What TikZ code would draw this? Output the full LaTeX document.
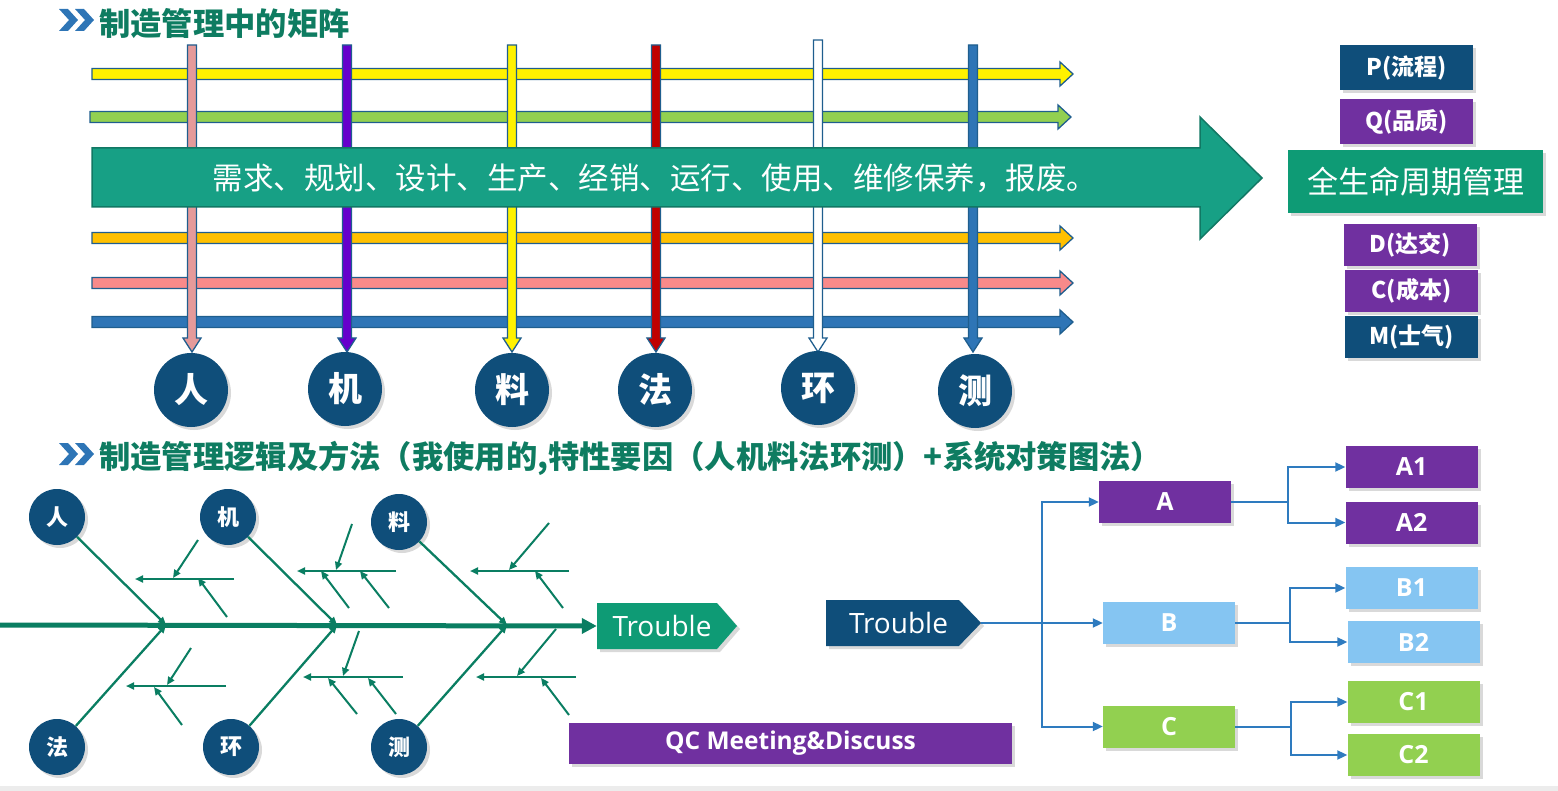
\documentclass[tikz,border=0pt]{standalone}
\usepackage{fontspec}
\setmainfont{Noto Sans CJK SC}
\newfontfamily\latinfont{Open Sans}
\usepackage{tikz}
\usetikzlibrary{positioning,arrows.meta,shadows,shapes.symbols}
\definecolor{ttlgreen}{HTML}{0E7C61}
\definecolor{bonegreen}{HTML}{0A7E62}
\definecolor{bigteal}{HTML}{17A085}
\definecolor{boxgreen}{HTML}{0E9B75}
\definecolor{navy}{HTML}{0F4E7A}
\definecolor{purp}{HTML}{7030A0}
\definecolor{lblue}{HTML}{85C5F2}
\definecolor{lgreen}{HTML}{92D050}
\definecolor{cblue}{HTML}{2E7BBF}
\definecolor{edgeblue}{HTML}{1F5E8E}
\definecolor{barpink}{HTML}{E59A9A}
\definecolor{barpurp}{HTML}{6600CC}
\definecolor{barred}{HTML}{C00000}
\definecolor{barblue}{HTML}{2E75B6}
\definecolor{orange}{HTML}{FFC000}
\definecolor{salmon}{HTML}{F88A8A}

\begin{document}
\begin{tikzpicture}[x=1pt, y=-1pt,
  shade/.style={drop shadow={shadow xshift=3pt, shadow yshift=-3pt, opacity=0.3}},
  ttl/.style={anchor=west, text=ttlgreen, inner sep=0pt, font=\fontsize{31.3}{33}\selectfont\bfseries},
  chev/.style={fill=barblue},
  barline/.style={draw=edgeblue, line width=1.3pt},
  ball/.style={circle, fill=navy, text=white, shade, inner sep=0pt, font=\fontsize{34}{36}\selectfont\bfseries},
  sball/.style={ball, minimum size=56pt, font=\fontsize{22}{24}\selectfont\bfseries},
  tag/.style={rectangle, text=white, shade, inner sep=0pt, minimum width=133pt, minimum height=42pt, font=\fontsize{23}{25}\selectfont\bfseries},
  leaf/.style={tag, minimum width=132pt, font=\latinfont\fontsize{25}{27}\selectfont\bfseries},
  bone/.style={draw=bonegreen, line width=2.3pt, -{Triangle[length=8pt,width=7pt]}},
  spine/.style={draw=bonegreen, line width=5pt, -{Triangle[length=15pt,width=15pt]}},
  tline/.style={draw=cblue, line width=2pt},
  tarr/.style={tline, -{Triangle[length=10pt,width=9pt]}}]
\useasboundingbox (0,0) rectangle (1558,791);
\fill[gray!15] (0,786) rectangle (1558,791);

\foreach \dy in {0,434}
  \foreach \dx in {0,16}
    \fill[chev] (59+\dx,9+\dy) -- (68+\dx,9+\dy) -- (78+\dx,20+\dy) -- (68+\dx,31+\dy) -- (59+\dx,31+\dy) -- (69+\dx,20+\dy) -- cycle;
\node[ttl] (ttl1) at (99,24) {制造管理中的矩阵};
\node[ttl] (ttl2) at (99,458) {制造管理逻辑及方法（我使用的,特性要因（人机料法环测）+系统对策图法）};

\foreach \y/\c/\s/\e in {74/yellow/92/1073, 117/lgreen/90/1071, 238/orange/92/1073, 283/salmon/92/1073, 322/barblue/92/1073}
  \filldraw[barline, fill=\c] (\s,\y-5.5) -- (\e-13,\y-5.5) -- (\e-13,\y-12) -- (\e,\y) -- (\e-13,\y+12) -- (\e-13,\y+5.5) -- (\s,\y+5.5) -- cycle;
\foreach \x/\c/\t in {192/barpink/45, 347/barpurp/45, 512/yellow/45, 656/barred/45, 818/white/40, 973/barblue/45}
  \filldraw[barline, fill=\c] (\x-4.5,\t) -- (\x+4.5,\t) -- (\x+4.5,338) -- (\x+9,338) -- (\x,352) -- (\x-9,338) -- (\x-4.5,338) -- cycle;
\filldraw[fill=bigteal, draw=bigteal!75!black, line width=1.5pt] (92,148) -- (1200,148) -- (1200,117) -- (1262,178) -- (1200,239) -- (1200,207) -- (92,207) -- cycle;
\node[text=white, font=\fontsize{30.5}{32}\selectfont] (life) at (655,178) {需求、规划、设计、生产、经销、运行、使用、维修保养，报废。};

\node[ball, minimum size=74pt] (ren)  at (191,390) {人};
\node[ball, minimum size=74pt] (ji)   at (345,389) {机};
\node[ball, minimum size=74pt] (liao) at (512,390) {料};
\node[ball, minimum size=74pt] (fa)   at (655,390) {法};
\node[ball, minimum size=74pt] (huan) at (818,388) {环};
\node[ball, minimum size=74pt] (ce)   at (975,391) {测};

\node[tag, fill=navy, minimum height=45pt] (P) at (1406.5,67.5) {P(流程)};
\node[tag, fill=purp, minimum height=45pt] (Q) at (1406.5,121.5) {Q(品质)};
\node[tag, fill=boxgreen, minimum width=255pt, minimum height=63pt, font=\fontsize{31}{33}\selectfont] (cycle) at (1415.5,181.5) {全生命周期管理};
\node[tag, fill=purp] (D) at (1410.5,245) {D(达交)};
\node[tag, fill=purp] (C) at (1411.5,291) {C(成本)};
\node[tag, fill=navy] (M) at (1411.5,337) {M(士气)};

\node[sball] (fren)  at (57,517) {人};
\node[sball] (fji)   at (228,517) {机};
\node[sball] (fliao) at (399,522) {料};
\node[sball] (ffa)   at (57,747) {法};
\node[sball] (fhuan) at (231,747) {环};
\node[sball] (fce)   at (399,747) {测};
\node[signal, signal to=east, signal pointer angle=98, fill=boxgreen, text=white, shade, minimum width=140pt, minimum height=46pt, inner sep=0pt, font=\latinfont\fontsize{28}{30}\selectfont] (trbl1) at (657,626) {\hspace*{10pt}Trouble};
\coordinate (spst) at (0,625);
\coordinate (j1) at (166,625);
\coordinate (j2) at (337,625);
\coordinate (j3) at (507,625);
\draw[spine] (spst) -- (trbl1.west);
\draw[bone] (fren) -- (j1);
\draw[bone] (ffa) -- (j1);
\draw[bone] (fji) -- (j2);
\draw[bone] (fhuan) -- (j2);
\draw[bone] (fliao) -- (j3);
\draw[bone] (fce) -- (j3);
\foreach \xa/\ya/\xb/\yb in {234/579/135/579, 198/540/173/578, 227/617/198/578,
    226/686/126/686, 191/648/167/685, 182/725/154/687,
    396/571/297/571, 352/524/336/570, 349/608/321/571, 389/608/360/571,
    403/677/303/677, 359/631/343/676, 357/714/328/678, 396/714/368/678,
    569/571/470/571, 549/523/509/570, 563/608/535/571,
    576/677/476/677, 556/629/517/676, 569/715/541/678}
  \draw[bone, line width=2pt] (\xa,\ya) -- (\xb,\yb);
\node[tag, fill=purp, minimum width=443pt, minimum height=41pt, font=\latinfont\fontsize{24.5}{26}\selectfont\bfseries] (qc) at (790.5,743.5) {QC Meeting\&Discuss};

\node[signal, signal to=east, signal pointer angle=92, fill=navy, text=white, shade, minimum width=155pt, minimum height=46pt, inner sep=0pt, font=\latinfont\fontsize{28}{30}\selectfont] (trbl2) at (892.5,623) {\hspace*{12pt}Trouble};
\node[leaf, fill=purp]   (A)  at (1165,502) {A};
\node[leaf, fill=lblue]  (B)  at (1169,623) {B};
\node[leaf, fill=lgreen] (Cc) at (1169,726.5) {C};
\node[leaf, fill=purp]   (A1) at (1411.5,467) {A1};
\node[leaf, fill=purp]   (A2) at (1411.5,522.5) {A2};
\node[leaf, fill=lblue]  (B1) at (1411.5,588) {B1};
\node[leaf, fill=lblue]  (B2) at (1413.5,642) {B2};
\node[leaf, fill=lgreen] (C1) at (1413.5,702) {C1};
\node[leaf, fill=lgreen] (C2) at (1413.5,755) {C2};
\coordinate (trunk) at (1042,623);
\draw[tline] (trbl2.east) -- (trunk);
\draw[tarr] (trunk) |- (A);
\draw[tarr] (trunk) -- (B);
\draw[tarr] (trunk) |- (Cc);
\draw[tarr] (A.east) -- ++(57,0) |- (A1);
\draw[tarr] (A.east) -- ++(57,0) |- (A2);
\draw[tarr] (B.east) -- ++(55,0) |- (B1);
\draw[tarr] (B.east) -- ++(55,0) |- (B2);
\draw[tarr] (Cc.east) -- ++(56,0) |- (C1);
\draw[tarr] (Cc.east) -- ++(56,0) |- (C2);
\end{tikzpicture}
\end{document}
